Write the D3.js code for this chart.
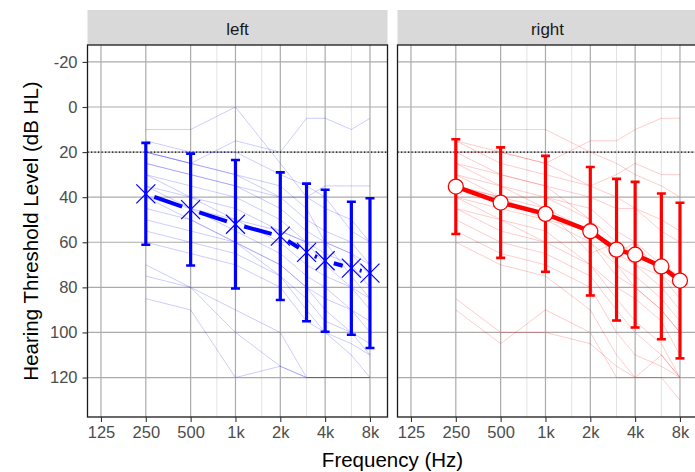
<!DOCTYPE html>
<html>
<head>
<meta charset="utf-8">
<script src="https://cdn.jsdelivr.net/npm/d3@7"></script>
<style>
  body { margin: 0; background: #fff; }
  svg { display: block; font-family: "Liberation Sans", Arial, sans-serif; }
</style>
</head>
<body>
<svg id="chart" width="695" height="472"></svg>
<script>
// ---------- data ----------
const panels = ["left", "right"];
const freqs = [250, 500, 1000, 2000, 3000, 4000, 6000, 8000];
const xTicks = [125, 250, 500, 1000, 2000, 4000, 8000];
const xTickLabels = ["125", "250", "500", "1k", "2k", "4k", "8k"];
const xMinor = [750, 1500, 3000, 6000];
const yTicks = [-20, 0, 20, 40, 60, 80, 100, 120];
const yTickLabels = ["-20", "0", "20", "40", "60", "80", "100", "120"];
const refLevel = 20;

const leftMean = [38.5, 45.5, 52, 57.3, 64.5, 68.2, 71.5, 73.7];
const leftSD   = [22.6, 24.8, 28.5, 28.3, 30.5, 31.5, 29.5, 33.2];
const rightMean = [35.3, 42.4, 47.4, 55.1, 63.3, 65.5, 70.7, 77];
const rightSD   = [21, 24.5, 25.7, 28.5, 31.4, 32.3, 32.3, 34.5];

const leftSubjects = [
  [10, 10, 0, 25, 40, 45, 50, 60],
  [20, 25, 15, 20, 5, 5, 10, 5],
  [15, 20, 20, 30, 35, 40, 55, 60],
  [20, 25, 30, 40, 50, 55, 60, 70],
  [25, 30, 35, 45, 55, 60, 65, 75],
  [30, 35, 40, 50, 60, 65, 70, 80],
  [30, 40, 45, 55, 60, 70, 80, 90],
  [35, 40, 50, 60, 70, 75, 80, 85],
  [35, 45, 55, 65, 75, 80, 90, 95],
  [40, 45, 50, 55, 60, 60, 65, 70],
  [45, 50, 60, 70, 80, 85, 90, 100],
  [50, 55, 60, 70, 80, 90, 100, 110],
  [55, 60, 65, 75, 90, 100, 110, 120],
  [60, 65, 70, 80, 95, 100, 105, 110],
  [70, 80, 90, 100, 120, 120, 120, 120],
  [75, 80, 100, 115, 120, 120, 120, 120],
  [85, 90, 120, 115, 120, 120, 120, 120],
  [25, 30, 35, 40, 40, 35, 35, 35],
  [20, 25, 30, 35, 45, 60, 75, 85],
  [40, 50, 60, 75, 85, 95, 100, 105]
];
const rightSubjects = [
  [10, 10, 10, 20, 25, 30, 35, 40],
  [15, 20, 25, 15, 15, 10, 5, 5],
  [15, 25, 30, 35, 30, 25, 30, 30],
  [20, 20, 25, 35, 40, 45, 55, 60],
  [25, 30, 35, 40, 45, 45, 50, 55],
  [25, 35, 40, 50, 60, 65, 70, 80],
  [30, 35, 45, 55, 65, 70, 80, 90],
  [30, 40, 50, 60, 75, 80, 90, 100],
  [35, 40, 40, 45, 55, 60, 70, 75],
  [40, 45, 50, 55, 65, 60, 75, 85],
  [40, 50, 55, 70, 80, 85, 95, 110],
  [45, 55, 60, 70, 85, 95, 105, 120],
  [50, 60, 65, 75, 90, 100, 110, 120],
  [55, 65, 70, 80, 100, 110, 115, 120],
  [60, 70, 75, 90, 110, 120, 120, 120],
  [85, 100, 100, 105, 115, 120, 110, 120],
  [90, 105, 90, 100, 120, 120, 120, 130],
  [20, 30, 35, 50, 70, 75, 85, 95],
  [35, 40, 45, 65, 60, 70, 75, 80],
  [45, 50, 60, 60, 70, 80, 90, 100]
];

// ---------- layout ----------
const svg = d3.select("#chart");
const panelTop = 45, panelBottom = 417, panelW = 300;
const panelLefts = [87.5, 397.5];
const stripTop = 10;

const x = d3.scaleLog().base(2).domain([101.5, 10490]).range([0, panelW]);
const y = d3.scaleLinear().domain([-27.5, 137.5]).range([panelTop, panelBottom]);

const colors = ["#0000ff", "#ff0000"];
const means = [leftMean, rightMean];
const sds = [leftSD, rightSD];
const subjects = [leftSubjects, rightSubjects];

panels.forEach((name, i) => {
  const g = svg.append("g").attr("transform", `translate(${panelLefts[i]},0)`);
  const col = colors[i];

  const cid = "clip" + i;
  svg.append("clipPath").attr("id", cid).append("rect")
    .attr("x", 0).attr("y", panelTop).attr("width", panelW).attr("height", panelBottom - panelTop);

  // strip
  g.append("rect").attr("x", 0).attr("y", stripTop).attr("width", panelW)
    .attr("height", panelTop - stripTop).attr("fill", "#d9d9d9");
  g.append("text").attr("x", panelW / 2).attr("y", 34.5).attr("text-anchor", "middle")
    .attr("font-size", 17).attr("fill", "#1a1a1a").text(name);

  // grid
  const grid = g.append("g").attr("clip-path", `url(#${cid})`);
  grid.selectAll(".minx").data(xMinor).join("line")
    .attr("x1", d => x(d)).attr("x2", d => x(d)).attr("y1", panelTop).attr("y2", panelBottom)
    .attr("stroke", "#e3e3e3").attr("stroke-width", 1);
  grid.selectAll(".majx").data(xTicks).join("line")
    .attr("x1", d => x(d)).attr("x2", d => x(d)).attr("y1", panelTop).attr("y2", panelBottom)
    .attr("stroke", "#ababab").attr("stroke-width", 1.2);
  grid.selectAll(".majy").data(yTicks).join("line")
    .attr("x1", 0).attr("x2", panelW).attr("y1", d => y(d)).attr("y2", d => y(d))
    .attr("stroke", "#ababab").attr("stroke-width", 1.2);

  grid.append("line").attr("x1", 0).attr("x2", panelW).attr("y1", y(refLevel)).attr("y2", y(refLevel))
    .attr("stroke", "#000").attr("stroke-width", 1.2).attr("stroke-dasharray", "1.2,2.3");

  const data = g.append("g").attr("clip-path", `url(#${cid})`);
  const line = d3.line().x((d, k) => x(freqs[k])).y(d => y(d));

  data.selectAll(".subj").data(subjects[i]).join("path")
    .attr("d", line).attr("fill", "none").attr("stroke", col)
    .attr("stroke-opacity", 0.2).attr("stroke-width", 1);

  const m = means[i], s = sds[i];
  const eb = data.selectAll(".eb").data(freqs).join("g");
  eb.append("line").attr("x1", d => x(d)).attr("x2", d => x(d))
    .attr("y1", (d, k) => y(m[k] - s[k])).attr("y2", (d, k) => y(m[k] + s[k]))
    .attr("stroke", col).attr("stroke-width", 3.2);
  eb.append("line").attr("x1", d => x(d) - 4.5).attr("x2", d => x(d) + 4.5)
    .attr("y1", (d, k) => y(m[k] - s[k])).attr("y2", (d, k) => y(m[k] - s[k]))
    .attr("stroke", col).attr("stroke-width", 2.6);
  eb.append("line").attr("x1", d => x(d) - 4.5).attr("x2", d => x(d) + 4.5)
    .attr("y1", (d, k) => y(m[k] + s[k])).attr("y2", (d, k) => y(m[k] + s[k]))
    .attr("stroke", col).attr("stroke-width", 2.6);

  if (i === 0) {
    const segs = d3.range(freqs.length - 1).map(k => {
      const x1 = x(freqs[k]), y1 = y(m[k]), x2 = x(freqs[k + 1]), y2 = y(m[k + 1]);
      const len = Math.hypot(x2 - x1, y2 - y1);
      const gap = Math.min(9, len / 2 - 1);
      const ux = (x2 - x1) / len, uy = (y2 - y1) / len;
      return [x1 + ux * gap, y1 + uy * gap, x2 - ux * gap, y2 - uy * gap];
    });
    data.selectAll(".seg").data(segs).join("line")
      .attr("x1", d => d[0]).attr("y1", d => d[1]).attr("x2", d => d[2]).attr("y2", d => d[3])
      .attr("stroke", col).attr("stroke-width", 4);
    const r = 9.5;
    const mk = data.selectAll(".mk").data(freqs).join("g")
      .attr("transform", (d, k) => `translate(${x(d)},${y(m[k])})`);
    mk.append("line").attr("x1", -r).attr("y1", -r).attr("x2", r).attr("y2", r)
      .attr("stroke", col).attr("stroke-width", 1.2);
    mk.append("line").attr("x1", -r).attr("y1", r).attr("x2", r).attr("y2", -r)
      .attr("stroke", col).attr("stroke-width", 1.2);
  } else {
    data.append("path").datum(m).attr("d", line).attr("fill", "none")
      .attr("stroke", col).attr("stroke-width", 4.5);
    data.selectAll(".mk").data(freqs).join("circle")
      .attr("cx", d => x(d)).attr("cy", (d, k) => y(m[k])).attr("r", 7.5)
      .attr("fill", "#fff").attr("stroke", col).attr("stroke-width", 1.3);
  }

  g.append("rect").attr("x", 0).attr("y", panelTop).attr("width", panelW)
    .attr("height", panelBottom - panelTop).attr("fill", "none")
    .attr("stroke", "#1a1a1a").attr("stroke-width", 1.3);

  const xa = g.append("g").attr("transform", `translate(0,${panelBottom})`)
    .call(d3.axisBottom(x).tickValues(xTicks).tickFormat((d, k) => xTickLabels[k])
      .tickSize(5).tickPadding(4));
  xa.select(".domain").remove();
  xa.selectAll(".tick line").attr("stroke", "#333").attr("stroke-width", 1.1);
  xa.selectAll(".tick text").attr("fill", "#4d4d4d").attr("font-size", 16.5)
    .attr("font-family", "Liberation Sans, Arial, sans-serif");

  if (i === 0) {
    const ya = g.append("g")
      .call(d3.axisLeft(y).tickValues(yTicks).tickFormat((d, k) => yTickLabels[k])
        .tickSize(5).tickPadding(5));
    ya.select(".domain").remove();
    ya.selectAll(".tick line").attr("stroke", "#333").attr("stroke-width", 1.1);
    ya.selectAll(".tick text").attr("fill", "#4d4d4d").attr("font-size", 16.5)
      .attr("font-family", "Liberation Sans, Arial, sans-serif");
  }
});

svg.append("text").attr("x", 392.5).attr("y", 467).attr("text-anchor", "middle")
  .attr("font-size", 20.5).attr("fill", "#000").text("Frequency (Hz)");
svg.append("text").attr("transform", "translate(38,231) rotate(-90)").attr("text-anchor", "middle")
  .attr("font-size", 20.5).attr("fill", "#000").text("Hearing Threshold Level (dB HL)");
</script>
</body>
</html>
